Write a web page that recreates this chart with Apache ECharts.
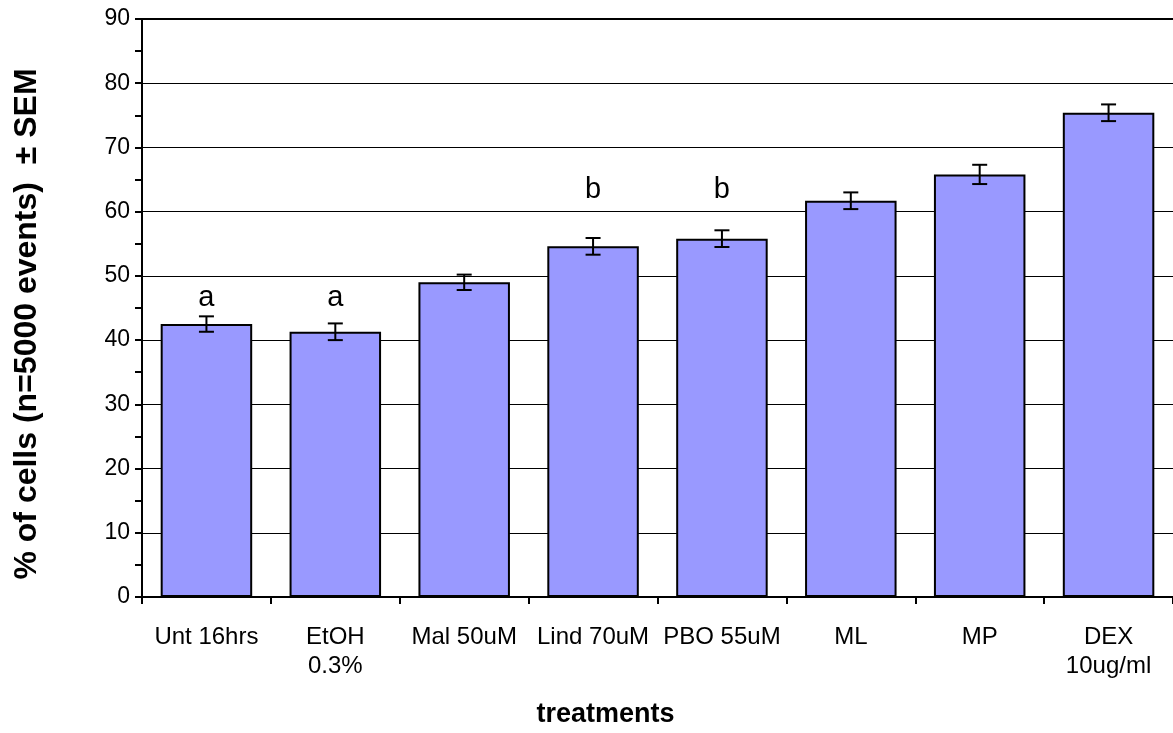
<!DOCTYPE html>
<html><head><meta charset="utf-8">
<script src="https://cdn.jsdelivr.net/npm/echarts@6/dist/echarts.min.js"></script>
<style>html,body{margin:0;padding:0;background:#fff}#c{width:1173px;height:733px}</style>
</head><body><div id="c"></div>
<script>
const categories = ['Unt 16hrs', 'EtOH\n0.3%', 'Mal 50uM', 'Lind 70uM', 'PBO 55uM', 'ML', 'MP', 'DEX\n10ug/ml'];
const values = [42.5, 41.3, 49.0, 54.6, 55.8, 61.7, 65.8, 75.4];
const sem = [1.2, 1.3, 1.2, 1.3, 1.3, 1.3, 1.5, 1.3];
const letters = ['a', 'a', '', 'b', 'b', '', '', ''];
const letterLevels = [46.5, 46.5, null, 63.4, 63.4, null, null, null];
const yTicks = [0, 10, 20, 30, 40, 50, 60, 70, 80, 90];
const yTitle = '% of cells (n=5000 events)  ± SEM';
const xTitle = 'treatments';

const font = '"Liberation Sans", Arial, sans-serif';
const chart = echarts.init(document.getElementById('c'));
chart.setOption({
  animation: false,
  grid: { left: 142, top: 19, width: 1037, bottom: 134.5, containLabel: false },
  graphic: [{
    type: 'text', x: 27, y: 324, rotation: Math.PI / 2,
    style: { text: yTitle, fontFamily: font, fontSize: 32, fontWeight: 'bold', fill: '#000',
      align: 'center', verticalAlign: 'middle' }
  }],
  xAxis: {
    type: 'category', data: categories,
    name: xTitle, nameLocation: 'middle', nameGap: 104,
    nameTextStyle: { fontFamily: font, fontSize: 27, fontWeight: 'bold', color: '#000', padding: [0, 0, 0, -104] },
    axisLine: { lineStyle: { color: '#000', width: 2 } },
    axisTick: { show: true, interval: 0, length: 7, lineStyle: { color: '#000', width: 2 } },
    axisLabel: { interval: 0, fontFamily: font, fontSize: 24, color: '#000', margin: 26, lineHeight: 29 },
    splitLine: { show: false }
  },
  yAxis: {
    type: 'value', min: yTicks[0], max: yTicks[yTicks.length - 1], interval: 10,
    axisLine: { show: true, lineStyle: { color: '#000', width: 2 } },
    axisTick: { show: true, length: 7, lineStyle: { color: '#000', width: 2 } },
    minorTick: { show: true, splitNumber: 2, length: 7, lineStyle: { color: '#000', width: 2 } },
    axisLabel: { fontFamily: font, fontSize: 23, color: '#000', margin: 12 },
    splitLine: { show: true, lineStyle: { color: '#000', width: 1.2 } }
  },
  series: [
    {
      type: 'bar', data: values, barWidth: '71%',
      itemStyle: { color: '#9999FF', borderColor: '#000', borderWidth: 2 },
      z: 2
    },
    {
      type: 'custom', z: 5,
      data: values.map((v, i) => [i, v - sem[i], v + sem[i]]),
      renderItem: function (params, api) {
        const lo = api.coord([api.value(0), api.value(1)]);
        const hi = api.coord([api.value(0), api.value(2)]);
        const w = 7.5;
        const st = { stroke: '#000', lineWidth: 2 };
        return { type: 'group', children: [
          { type: 'line', shape: { x1: lo[0], y1: lo[1], x2: hi[0], y2: hi[1] }, style: st },
          { type: 'line', shape: { x1: lo[0] - w, y1: lo[1], x2: lo[0] + w, y2: lo[1] }, style: st },
          { type: 'line', shape: { x1: hi[0] - w, y1: hi[1], x2: hi[0] + w, y2: hi[1] }, style: st }
        ]};
      }
    },
    {
      type: 'custom', z: 6,
      data: letterLevels.map((y, i) => [i, y]).filter(d => d[1] !== null),
      renderItem: function (params, api) {
        const p = api.coord([api.value(0), api.value(1)]);
        return { type: 'text', x: p[0], y: p[1], style: {
          text: letters[api.value(0)], fontFamily: font, fontSize: 29, fill: '#000',
          align: 'center', verticalAlign: 'middle'
        }};
      }
    },
    {
      type: 'line', data: [], markLine: {
        silent: true, symbol: 'none', label: { show: false },
        lineStyle: { color: '#000', width: 2, type: 'solid' },
        data: [{ yAxis: yTicks[yTicks.length - 1] }]
      }
    }
  ]
});
</script></body></html>
